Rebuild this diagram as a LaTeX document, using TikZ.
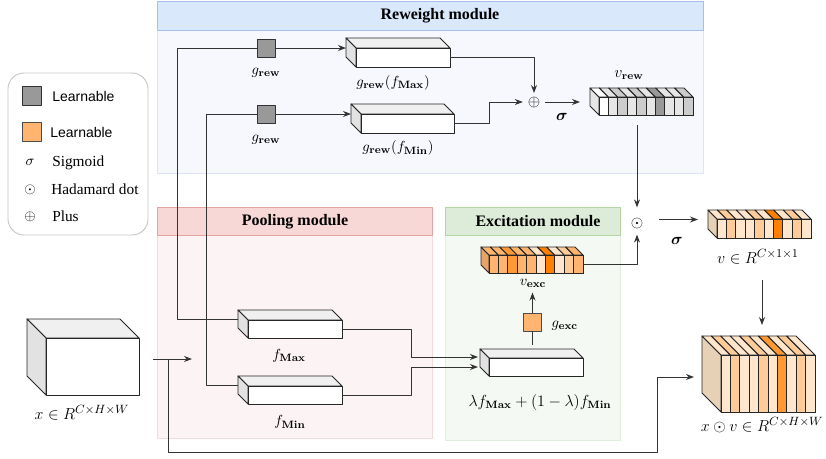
\documentclass[tikz,border=0pt]{standalone}
\usepackage[no-math]{fontspec}
\usepackage{bm}
\setmainfont{Liberation Serif}
\newfontfamily\lsans{Liberation Sans}
\usetikzlibrary{arrows.meta,calc}
\definecolor{cA}{HTML}{FFE6CC}
\definecolor{cB}{HTML}{FFCC99}
\definecolor{cC}{HTML}{FFB570}
\definecolor{cD}{HTML}{FF9933}
\definecolor{cE}{HTML}{FF8000}
\definecolor{gA}{HTML}{E6E6E6}
\definecolor{gB}{HTML}{CCCCCC}
\definecolor{gC}{HTML}{999999}
\definecolor{rwbody}{HTML}{F6F8FD}
\definecolor{rwline}{HTML}{DCE5F4}
\definecolor{rwhead}{HTML}{DAE8FC}
\definecolor{rwhl}{HTML}{A6C0E5}
\definecolor{plbody}{HTML}{FCF4F4}
\definecolor{plline}{HTML}{F4DADA}
\definecolor{plhead}{HTML}{F8D8D7}
\definecolor{plhl}{HTML}{E3A3A1}
\definecolor{exbody}{HTML}{F5F9F3}
\definecolor{exline}{HTML}{E2EEDC}
\definecolor{exhead}{HTML}{DDEBD9}
\definecolor{exhl}{HTML}{B3D6A3}
\definecolor{sideT}{HTML}{E6D0B6}
\definecolor{sideO}{HTML}{E5A468}
\definecolor{cubetop}{HTML}{F0F0F0}
\definecolor{cubeside}{HTML}{E2E2E2}

\tikzset{
  conn/.style={draw=black!80, line width=0.75pt},
  arr/.style={conn, -{Stealth[length=6pt,width=4.5pt]}},
  cubeline/.style={draw=black!85, line width=0.7pt},
  face/.style={draw=black!85, line width=0.7pt, inner sep=0pt, outer sep=0pt, anchor=north west},
  modbox/.style={inner sep=0pt, outer sep=0pt, anchor=north west, line width=0.7pt},
  title/.style={font=\bfseries\fontsize{12}{14}\selectfont},
  lab/.style={font=\fontsize{11}{13}\selectfont, inner sep=1pt},
  midlab/.style={font=\fontsize{12}{14}\selectfont, inner sep=1pt},
  biglab/.style={font=\fontsize{12.5}{14}\selectfont, inner sep=1pt},
  gsq/.style={draw=black!80, fill=gC, line width=0.7pt, minimum size=18*0.75pt, inner sep=0pt},
  osq/.style={draw=black!70, fill=cC, line width=0.7pt, minimum size=18*0.75pt, inner sep=0pt},
  legtxt/.style={font=\fontsize{11.5}{13}\selectfont, anchor=west, inner sep=0pt},
  legsans/.style={font=\lsans\fontsize{10.5}{12}\selectfont, anchor=west, inner sep=0pt},
}

\newcommand{\plaincube}[6]{%
  \filldraw[cubeline, fill=cubetop] (#2,#3) -- ++(-#6,-#6) -- ++(#4,0) -- ++(#6,#6) -- cycle;
  \filldraw[cubeline, fill=cubeside] (#2,#3) -- ++(-#6,-#6) -- ++(0,#5) -- ++(#6,#6) -- cycle;
  \node[face, fill=white, minimum width=#4*0.75pt, minimum height=#5*0.75pt] (#1) at (#2,#3) {};
  \coordinate (#1-w) at ({#2-#6},{#3-#6+#5/2});}

\newcommand{\stripcube}[8]{%
  \filldraw[cubeline, fill=#7] (#2,#3) -- ++(-#6,-#6) -- ++(0,#5) -- ++(#6,#6) -- cycle;
  \foreach \colr [count=\i from 0] in {#8} {
    \filldraw[cubeline, fill=\colr] ({#2+\i*#4/10},#3) -- ++(-#6,-#6) -- ++({#4/10},0) -- ++(#6,#6) -- cycle;
    \filldraw[cubeline, fill=\colr] ({#2+\i*#4/10},#3) rectangle ++({#4/10},#5);
  }
  \node[face, minimum width=#4*0.75pt, minimum height=#5*0.75pt] (#1) at (#2,#3) {};
  \coordinate (#1-w) at ({#2-#6},{#3-#6+#5/2});}

\begin{document}
\begin{tikzpicture}[x=0.75pt,y=-0.75pt, line join=round]
\useasboundingbox (0,0) rectangle (826,458);

% ---------- modules ----------
\node[modbox, draw=rwline, fill=rwbody, minimum width=546*0.75pt, minimum height=172*0.75pt] (rwbox) at (157,1) {};
\node[modbox, draw=rwhl, fill=rwhead, minimum width=546*0.75pt, minimum height=29*0.75pt] (rwhead) at (157,1) {};
\node[title] (rwtitle) at (440,15.5) {Reweight module};

\node[modbox, draw=plline, fill=plbody, minimum width=275*0.75pt, minimum height=231*0.75pt] (plbox) at (157,207) {};
\node[modbox, draw=plhl, fill=plhead, minimum width=275*0.75pt, minimum height=28*0.75pt] (plhead) at (157,207) {};
\node[title] (pltitle) at (295,221.5) {Pooling module};

\node[modbox, draw=exline, fill=exbody, minimum width=175*0.75pt, minimum height=233*0.75pt] (exbox) at (445,207) {};
\node[modbox, draw=exhl, fill=exhead, minimum width=175*0.75pt, minimum height=28*0.75pt] (exhead) at (445,207) {};
\node[title] (extitle) at (538,221.5) {Excitation module};

% ---------- legend ----------
\node[modbox, draw=black!22, fill=white, rounded corners=12pt, minimum width=140*0.75pt, minimum height=162*0.75pt] (legend) at (8,73) {};
\node[gsq, minimum size=19*0.75pt] (lg1) at (31.5,95.5) {};
\node[legsans] (lt1) at (52,96) {Learnable};
\node[osq, minimum size=19*0.75pt] (lg2) at (31.5,131.5) {};
\node[legsans] (lt2) at (50,132) {Learnable};
\node[lab] (ls1) at (30,162) {$\sigma$};
\node[legtxt] (lt3) at (52,163) {Sigmoid};
\node[lab] (ls2) at (30,190) {$\odot$};
\node[legtxt] (lt4) at (51,189) {Hadamard dot};
\node[lab] (ls3) at (30,217) {$\oplus$};
\node[legtxt] (lt5) at (52,216) {Plus};

% ---------- cuboids ----------
\plaincube{gmax}{356}{48}{94}{19}{10}
\plaincube{gmin}{361}{114}{93}{19}{10}
\plaincube{fmax}{248}{320}{94}{18}{10}
\plaincube{fmin}{248}{386}{94}{18}{10}
\plaincube{comb}{489}{358}{94}{18}{9}
\plaincube{xin}{46}{338}{93}{57}{19}
\stripcube{vrew}{599}{97}{94}{18}{9}{gA}{white,gA,gB,gA,gB,gA,gC,gA,gA,gB}
\stripcube{vexc}{489}{255}{94}{18}{8}{sideO}{cC,cC,cD,cC,cC,cA,cE,cA,cB,cC}
\stripcube{v}{717}{219}{94}{19}{9}{sideT}{cA,cB,cA,cA,cB,cA,cE,cA,cB,cA}
\stripcube{out}{721}{355}{94}{57}{19}{sideT}{cA,cB,cA,cA,cB,cA,cD,cA,cB,cA}

% ---------- squares & operators ----------
\node[gsq] (gs1) at (266,48) {};
\node[gsq] (gs2) at (266,114) {};
\node[osq] (gex) at (532.5,322) {};
\node[midlab, inner sep=0.5pt] (plus) at (534,102) {$\oplus$};
\node[midlab, inner sep=0.5pt] (had) at (637,223) {$\odot$};

% ---------- labels ----------
\node[lab] (lgr1) at (266,73) {$g_{\mathbf{rew}}$};
\node[lab] (lgm) at (393,83) {$g_{\mathbf{rew}}(f_{\mathbf{Max}})$};
\node[lab] (lgr2) at (266,140) {$g_{\mathbf{rew}}$};
\node[lab] (lgn) at (398,148) {$g_{\mathbf{rew}}(f_{\mathbf{Min}})$};
\node[midlab] (lvrew) at (629,75) {$v_{\mathbf{rew}}$};
\node[lab] (lvexc) at (533,283) {$v_{\mathbf{exc}}$};
\node[lab, anchor=west] (lgexc) at (550,326) {$g_{\mathbf{exc}}$};
\node[midlab] (llam) at (540,402) {$\lambda f_{\mathbf{Max}}+(1-\lambda)f_{\mathbf{Min}}$};
\node[lab] (lfmax) at (289,356) {$f_{\mathbf{Max}}$};
\node[lab] (lfmin) at (290,422) {$f_{\mathbf{Min}}$};
\node[biglab] (lx) at (82,413) {$x\in R^{C\times H\times W}$};
\node[biglab] (lv) at (758,257) {$v\in R^{C\times 1\times 1}$};
\node[biglab] (lxv) at (762,425) {$x\odot v\in R^{C\times H\times W}$};
\node[midlab] (sig1) at (562,117) {$\bm{\sigma}$};
\node[midlab] (sig2) at (677,241) {$\bm{\sigma}$};

% ---------- connectors ----------
\coordinate (c1) at (177,48);
\coordinate (c2) at (206,114);
\draw[conn] (fmax-w) -| (c1) -- (gs1);
\draw[arr] (gs1) -- (gs1 -| gmax-w);
\draw[conn] (fmin-w) -| (c2) -- (gs2);
\draw[arr] (gs2) -- (gs2 -| gmin-w);

\draw[arr, shorten >=2pt] (gmax.east) -| (plus.north);
\draw[arr, shorten >=3pt] (gmin.east) -- ++(35,0) |- (plus.west);
\draw[arr, shorten <=3pt, shorten >=7.5pt] (plus.east) -- (plus -| vrew-w);

\draw[arr, shorten >=7pt] (vrew.south -| had) ++(0,10) -- (had.north);
\draw[arr, shorten >=4pt] (vexc.east) -| (had.south);
\draw[arr, shorten <=11pt, shorten >=7.5pt] (had.east |- v-w) -- (v-w);

\draw[arr] (fmax.east) -- ++(69,0) |- ($(comb-w)+(-2,-1)$);
\draw[arr] (fmin.east) -- ++(69,0) |- ($(comb-w)+(-2,9)$);
\draw[conn] (gex.south) -- ++(0,14);
\draw[arr] (gex.north) -- ++(0,-20);

\coordinate (inA) at (153,359);
\coordinate (inB) at (192,359);
\coordinate (jn) at (168,359);
\coordinate (cb) at (657,452);
\coordinate (oin) at (694,377);
\draw[arr] (inA) -- (inB);
\draw[arr] (jn) |- (cb) |- (oin);

\coordinate (va) at (762,280);
\coordinate (vb) at (762,325);
\draw[arr] (va) -- (vb);
\end{tikzpicture}
\end{document}
